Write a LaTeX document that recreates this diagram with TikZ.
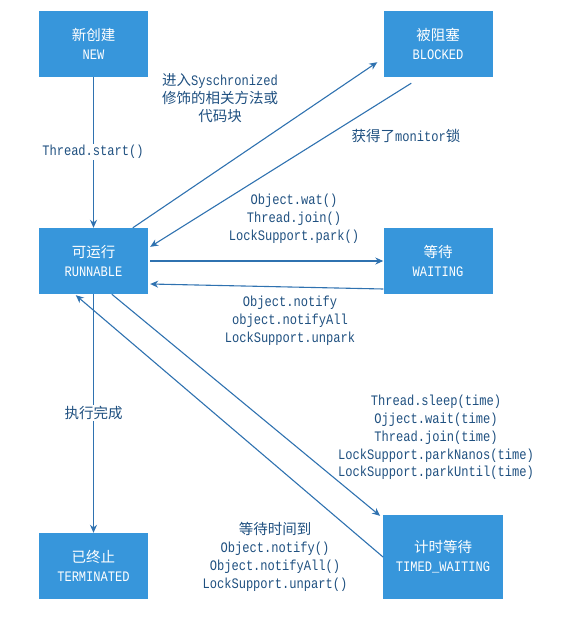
\documentclass[tikz,border=0pt]{standalone}
\usepackage{fontspec}
\usetikzlibrary{arrows.meta,calc}
\newfontfamily\cjk{Noto Sans CJK SC}
\newfontfamily\lat[FakeStretch=0.833]{Liberation Mono}
\definecolor{boxblue}{HTML}{3796DB}
\definecolor{linkblue}{HTML}{2F72B0}
\definecolor{labblue}{HTML}{1F5080}
\tikzset{
  statebox/.style={rectangle, fill=boxblue, text=white, inner sep=0pt, align=center,
    minimum width=109pt, minimum height=66pt, font=\fontsize{14.5}{19}\selectfont},
  lab/.style={text=labblue, inner sep=1pt, align=center, font=\fontsize{14.5}{17.8}\selectfont},
  link/.style={draw=linkblue, line width=1.1pt, -{Stealth[length=8pt,width=7pt]}}
}
\begin{document}
\begin{tikzpicture}[x=1pt,y=-1pt]
\useasboundingbox (0,0) rectangle (566,624);
% states
\node[statebox] (new) at (93.5,44) {{\cjk 新创建}\\{\lat NEW}};
\node[statebox] (blk) at (438,44) {{\cjk 被阻塞}\\{\lat BLOCKED}};
\node[statebox] (run) at (93.5,261) {{\cjk 可运行}\\{\lat RUNNABLE}};
\node[statebox] (wait) at (438,261) {{\cjk 等待}\\{\lat WAITING}};
\node[statebox] (term) at (93.5,566) {{\cjk 已终止}\\{\lat TERMINATED}};
\node[statebox, minimum width=119.5pt, minimum height=84pt] (tw) at (443,557) {{\cjk 计时等待}\\{\lat TIMED\_WAITING}};
% connectors
\draw[link] (new.south) -- (run.north);
\draw[link] ($(run.north west)+(94,0)$) -- ($(blk.south west)+(-6,-15)$);
\draw[link] ($(blk.south west)+(28,6)$) -- ($(run.north east)+(2,19)$);
\draw[link] ($(run.east)+(2,0)$) -- (wait.west);
\draw[link] ($(wait.west)+(0,28)$) -- ($(run.east)+(2,23)$);
\draw[link] (run.south) -- (term.north);
\draw[link] ($(run.south west)+(73,0)$) -- ($(tw.north west)+(-3,1)$);
\draw[link] (tw.west) -- ($(run.south west)+(37,1)$);
% labels
\node[lab, fill=white] (l1) at (93,152) {\lat Thread.start()};
\node[lab] (l2) at (220,98) {{\cjk 进入}{\lat Syschronized}\\{\cjk 修饰的相关方法或}\\{\cjk 代码块}};
\node[lab] (l3) at (406,136) {{\cjk 获得了}{\lat monitor}{\cjk 锁}};
\node[lab] (l4) at (294,219) {\lat Object.wat()\\\lat Thread.join()\\\lat LockSupport.park()};
\node[lab] (l5) at (290,321) {\lat Object.notify\\\lat object.notifyAll\\\lat LockSupport.unpark};
\node[lab, fill=white] (l6) at (93.5,413) {\cjk 执行完成};
\node[lab] (l7) at (436,437.5) {\lat Thread.sleep(time)\\\lat Ojject.wait(time)\\\lat Thread.join(time)\\\lat LockSupport.parkNanos(time)\\\lat LockSupport.parkUntil(time)};
\node[lab] (l8) at (275,557) {{\cjk 等待时间到}\\\lat Object.notify()\\\lat Object.notifyAll()\\\lat LockSupport.unpart()};
\end{tikzpicture}
\end{document}
